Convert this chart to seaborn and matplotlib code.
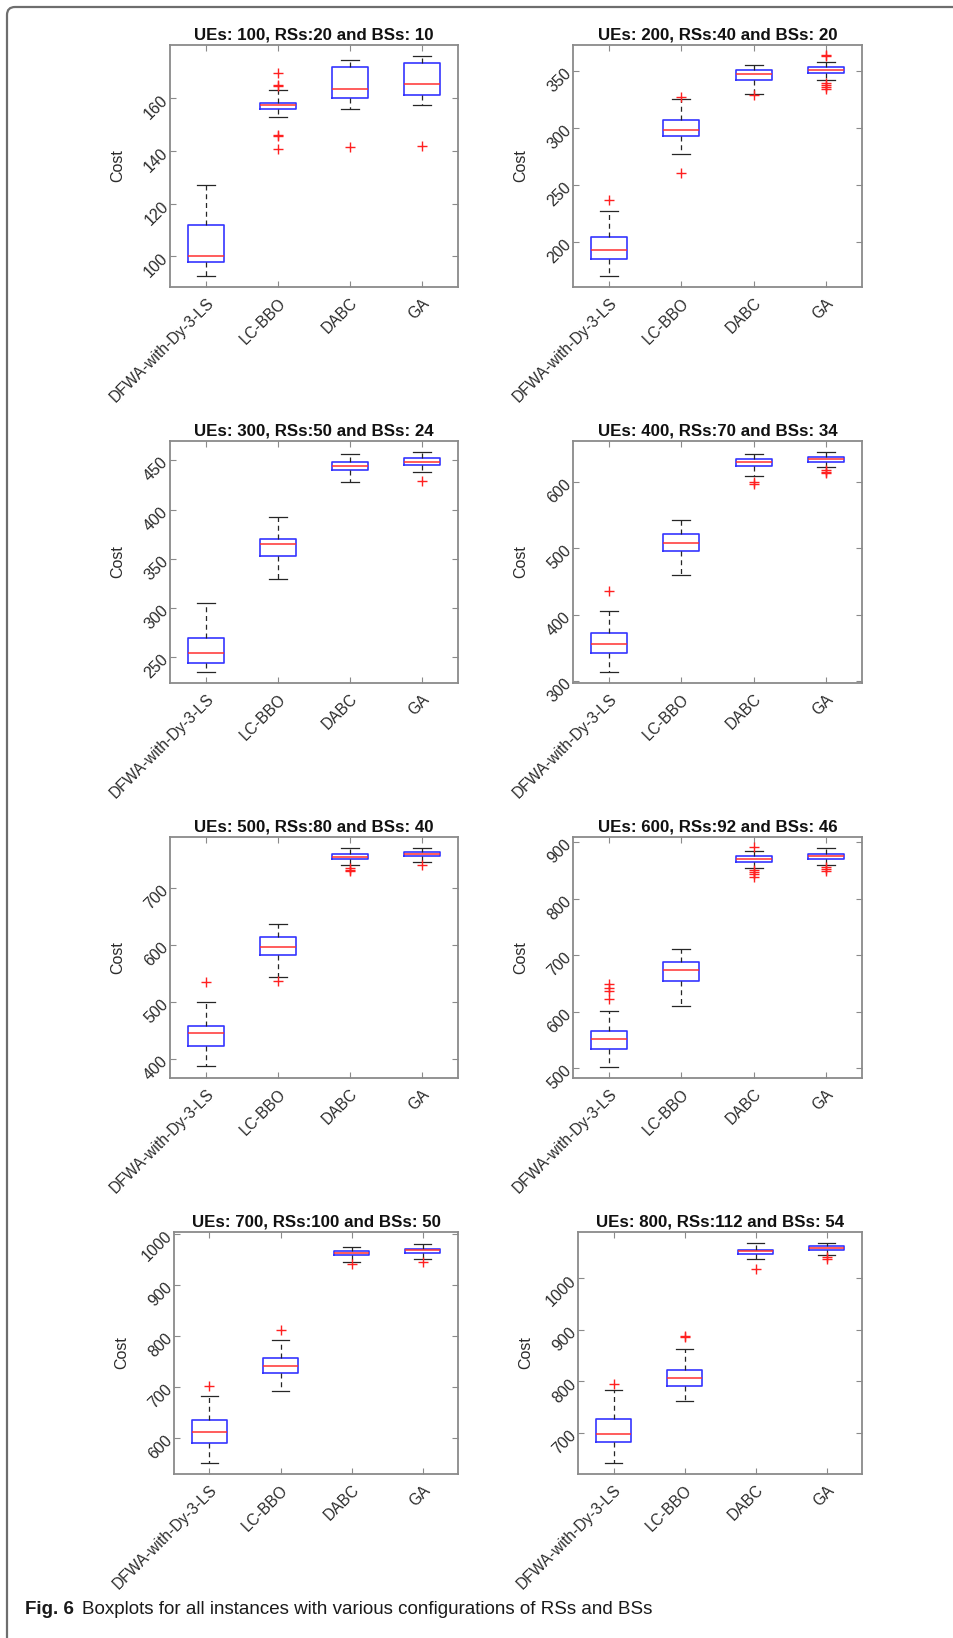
import numpy as np
import pandas as pd
import matplotlib
matplotlib.use("Agg")
import matplotlib.pyplot as plt
import seaborn as sns
from matplotlib.patches import FancyBboxPatch
from matplotlib.transforms import IdentityTransform

# ---------------- data ----------------
algorithms = ["DFWA-with-Dy-3-LS", "LC-BBO", "DABC", "GA"]

titles = [
    "UEs: 100, RSs:20 and BSs: 10",
    "UEs: 200, RSs:40 and BSs: 20",
    "UEs: 300, RSs:50 and BSs: 24",
    "UEs: 400, RSs:70 and BSs: 34",
    "UEs: 500, RSs:80 and BSs: 40",
    "UEs: 600, RSs:92 and BSs: 46",
    "UEs: 700, RSs:100 and BSs: 50",
    "UEs: 800, RSs:112 and BSs: 54",
]

whisker_low = [
    [92.6, 153.0, 155.9, 157.5],
    [170.5, 277.2, 329.5, 341.8],
    [235.1, 329.4, 428.3, 438.1],
    [313.6, 459.0, 608.5, 621.6],
    [387.2, 544.4, 739.6, 746.0],
    [502.9, 609.8, 853.5, 859.4],
    [551.7, 692.0, 945.5, 950.1],
    [642.5, 761.4, 1037.0, 1045.4],
]
quartile1 = [
    [97.7, 155.8, 160.1, 161.3],
    [185.1, 293.0, 342.1, 348.2],
    [243.9, 353.2, 439.9, 445.2],
    [342.7, 495.5, 623.1, 630.2],
    [422.1, 582.8, 750.0, 755.3],
    [534.6, 655.0, 865.2, 870.5],
    [590.2, 727.9, 957.3, 961.8],
    [682.5, 791.8, 1046.7, 1055.1],
]
medians = [
    [100.0, 157.3, 163.4, 165.5],
    [193.3, 298.5, 347.7, 350.9],
    [254.1, 364.7, 443.9, 448.3],
    [355.8, 508.5, 629.6, 634.7],
    [444.8, 596.2, 754.1, 759.4],
    [551.1, 673.8, 870.5, 874.7],
    [611.1, 741.0, 961.8, 967.6],
    [698.1, 806.0, 1053.1, 1059.0],
]
quartile3 = [
    [111.7, 158.3, 171.8, 173.4],
    [204.4, 306.7, 350.6, 353.5],
    [269.3, 369.5, 448.3, 452.0],
    [371.9, 521.1, 633.7, 637.7],
    [458.2, 613.1, 758.8, 762.8],
    [566.4, 688.5, 874.7, 879.3],
    [635.2, 756.0, 965.7, 970.9],
    [727.1, 822.1, 1055.7, 1062.8],
]
whisker_high = [
    [126.9, 163.3, 174.5, 176.1],
    [226.9, 325.1, 355.3, 358.2],
    [305.3, 391.9, 456.4, 458.8],
    [405.5, 542.7, 641.7, 645.2],
    [500.8, 637.0, 770.4, 770.4],
    [602.2, 710.8, 884.6, 888.7],
    [681.6, 791.8, 974.2, 979.4],
    [782.7, 862.9, 1068.6, 1069.3],
]
# outliers per panel: one list per algorithm
outliers = [
    [[], [169.7, 165.0, 164.6, 146.2, 145.6, 140.9], [141.4], [142.0]],
    [[237.1], [327.5, 260.8], [328.7], [364.3, 362.9, 339.8, 337.7, 335.7, 333.9]],
    [[], [], [], [428.9]],
    [[435.2], [], [600.0, 596.5], [617.6, 615.1, 612.6]],
    [[534.5], [537.4], [734.3, 732.0, 729.6], [740.8]],
    [[648.6, 642.7, 636.8, 622.0], [], [891.1, 850.0, 847.0, 843.0, 838.0], [855.9, 851.8, 848.8]],
    [[702.0], [810.8], [941.0], [943.6]],
    [[795.7], [888.8, 886.8], [1018.9], [1041.5, 1038.3]],
]
y_limits = [
    (88.3, 180.3), (160.5, 372.8), (223.5, 469.7), (297.0, 661.3),
    (366.8, 789.1), (483.0, 908.8), (529.5, 1003.3), (620.5, 1089.9),
]
y_ticks = [
    [100, 120, 140, 160],
    [200, 250, 300, 350],
    [250, 300, 350, 400, 450],
    [300, 400, 500, 600],
    [400, 500, 600, 700],
    [500, 600, 700, 800, 900],
    [600, 700, 800, 900, 1000],
    [700, 800, 900, 1000],
]

# ---------------- layout (pixels) ----------------
W, H = 954, 1638
col_lr = [(170, 458), (573, 862)]
row_tb = [(45, 287), (441, 683), (837, 1078), (1232, 1474)]
left_fix = {6: 174, 7: 578}

plt.rcParams["font.family"] = ["Liberation Sans", "DejaVu Sans"]
fig = plt.figure(figsize=(W / 100, H / 100), dpi=100)

spine_col = "#8a8a8a"
text_col = "#2b2b2b"

for i in range(8):
    r, c = divmod(i, 2)
    l, rr = col_lr[c]
    l = left_fix.get(i, l)
    t, b = row_tb[r]
    ax = fig.add_axes([l / W, 1 - b / H, (rr - l) / W, (b - t) / H])

    rows = []
    for k, alg in enumerate(algorithms):
        for v in (whisker_low[i][k], quartile1[i][k], medians[i][k],
                  quartile3[i][k], whisker_high[i][k]):
            rows.append({"algorithm": alg, "cost": v})
    box_df = pd.DataFrame(rows)

    sns.boxplot(
        data=box_df, x="algorithm", y="cost", order=algorithms, ax=ax,
        whis=(0, 100), fill=False, width=0.5, showfliers=False,
        boxprops=dict(color="#3535ff", linewidth=1.2),
        medianprops=dict(color="#ff3030", linewidth=1.1),
        whiskerprops=dict(color="#262626", linewidth=0.9, linestyle=(0, (4, 3))),
        capprops=dict(color="#262626", linewidth=0.9),
    )

    orows = []
    for k, alg in enumerate(algorithms):
        for v in outliers[i][k]:
            orows.append({"algorithm": alg, "cost": v})
    if orows:
        out_df = pd.DataFrame(orows)
        sns.stripplot(
            data=out_df, x="algorithm", y="cost", order=algorithms, ax=ax,
            jitter=False, marker="+", color="#ff2020", edgecolor="#ff2020",
            size=7, linewidth=1.0, zorder=4,
        )

    ax.set_xlim(-0.5, 3.5)
    ax.set_ylim(*y_limits[i])
    ax.set_yticks(y_ticks[i])
    ax.set_xticks(range(4))
    ax.set_xticklabels(algorithms, rotation=45, ha="right", va="top",
                       rotation_mode="anchor", fontsize=11.2, color=text_col)
    ax.set_yticklabels([str(v) for v in y_ticks[i]], rotation=45, ha="right",
                       va="center", rotation_mode="anchor", fontsize=11.5,
                       color=text_col)
    ax.tick_params(axis="both", direction="in", length=4, width=0.8,
                   color=spine_col, top=True, right=True)
    ax.tick_params(axis="x", pad=6)
    ax.tick_params(axis="y", pad=3)
    for s in ax.spines.values():
        s.set_color(spine_col)
        s.set_linewidth(1.3)
    ax.set_xlabel("")
    ax.set_ylabel("Cost", fontsize=11.5, color=text_col)
    ax.yaxis.set_label_coords(-45 / (rr - l), 0.5)
    ax.set_title(titles[i], fontsize=12.2, fontweight="bold", color="#111111", pad=4)
    ax.set_facecolor("white")

# outer frame (top and left edges with a rounded corner)
frame = FancyBboxPatch((7, -30), 1100, H - 7 + 30,
                       boxstyle="round,pad=0,rounding_size=8",
                       transform=IdentityTransform(), fill=False,
                       edgecolor="#6e6e6e", linewidth=1.6)
fig.add_artist(frame)

# caption
fig.canvas.draw()
cap_y = 1 - 1610 / H
t1 = fig.text(25 / W, cap_y, "Fig. 6", fontsize=13.5, fontweight="bold",
              family=["Liberation Sans Narrow", "Liberation Sans"], va="center",
              color="#1a1a1a")
renderer = fig.canvas.get_renderer()
bb = t1.get_window_extent(renderer)
fig.text((bb.x1 + 8) / W, cap_y,
         "Boxplots for all instances with various configurations of RSs and BSs",
         fontsize=13.5, family=["Liberation Sans Narrow", "Liberation Sans"],
         va="center", color="#1a1a1a")

fig.savefig("out.png", dpi=100, facecolor="white")
